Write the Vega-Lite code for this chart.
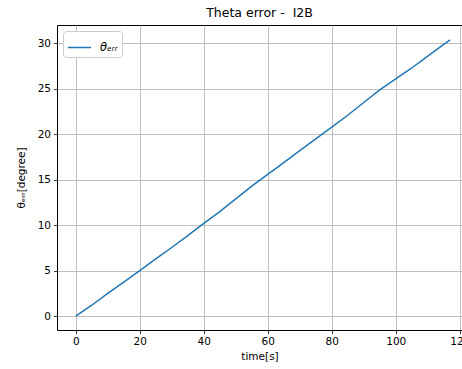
{
  "$schema": "https://vega.github.io/schema/vega-lite/v6.json",
  "autosize": {"type": "none"},
  "padding": {"left": 57, "top": 25, "right": 0, "bottom": 39},
  "width": 405,
  "height": 305,
  "title": {"text": "Theta error - \u00a0I2B", "fontSize": 12.5, "fontWeight": "normal", "font": "DejaVu Sans", "color": "#000000", "offset": 6},
  "config": {
    "font": "DejaVu Sans",
    "view": {"stroke": "#000000", "strokeWidth": 1},
    "axis": {
      "grid": true, "gridColor": "#b0b0b0", "gridWidth": 0.8,
      "domain": false, "tickColor": "#000000", "tickSize": 3.5, "tickWidth": 0.8,
      "labelFontSize": 10.5, "labelColor": "#000000", "labelPadding": 3,
      "titleFontSize": 10.5, "titleFontWeight": "normal", "titleColor": "#000000"
    },
    "legend": {
      "strokeColor": "#cccccc", "fillColor": "#ffffff", "cornerRadius": 3, "padding": 4,
      "labelFontSize": 11.5, "labelColor": "#000000", "labelOffset": 8, "symbolType": "stroke", "symbolSize": 529, "symbolStrokeWidth": 1.5, "labelFontStyle": "italic"
    }
  },
  "data": {"values": [
    {"t": 0, "y": 0, "s": "θₑᵣᵣ"},
    {"t": 5, "y": 1.2, "s": "θₑᵣᵣ"},
    {"t": 10, "y": 2.5, "s": "θₑᵣᵣ"},
    {"t": 15, "y": 3.75, "s": "θₑᵣᵣ"},
    {"t": 20, "y": 5.0, "s": "θₑᵣᵣ"},
    {"t": 25, "y": 6.3, "s": "θₑᵣᵣ"},
    {"t": 30, "y": 7.55, "s": "θₑᵣᵣ"},
    {"t": 35, "y": 8.85, "s": "θₑᵣᵣ"},
    {"t": 40, "y": 10.2, "s": "θₑᵣᵣ"},
    {"t": 45, "y": 11.5, "s": "θₑᵣᵣ"},
    {"t": 50, "y": 12.9, "s": "θₑᵣᵣ"},
    {"t": 55, "y": 14.3, "s": "θₑᵣᵣ"},
    {"t": 60, "y": 15.6, "s": "θₑᵣᵣ"},
    {"t": 65, "y": 16.9, "s": "θₑᵣᵣ"},
    {"t": 70, "y": 18.2, "s": "θₑᵣᵣ"},
    {"t": 75, "y": 19.5, "s": "θₑᵣᵣ"},
    {"t": 80, "y": 20.8, "s": "θₑᵣᵣ"},
    {"t": 85, "y": 22.1, "s": "θₑᵣᵣ"},
    {"t": 90, "y": 23.5, "s": "θₑᵣᵣ"},
    {"t": 95, "y": 24.9, "s": "θₑᵣᵣ"},
    {"t": 100, "y": 26.1, "s": "θₑᵣᵣ"},
    {"t": 105, "y": 27.3, "s": "θₑᵣᵣ"},
    {"t": 110, "y": 28.6, "s": "θₑᵣᵣ"},
    {"t": 115, "y": 29.9, "s": "θₑᵣᵣ"},
    {"t": 117, "y": 30.4, "s": "θₑᵣᵣ"}
  ]},
  "mark": {"type": "line", "strokeWidth": 1.5, "clip": true},
  "encoding": {
    "x": {"field": "t", "type": "quantitative", "scale": {"domain": [-5.85, 120.7], "nice": false, "zero": false},
      "axis": {"values": [0, 20, 40, 60, 80, 100, 120], "title": "time[s]", "titlePadding": 4}},
    "y": {"field": "y", "type": "quantitative", "scale": {"domain": [-1.525, 32.03], "nice": false, "zero": false},
      "axis": {"values": [0, 5, 10, 15, 20, 25, 30], "title": "θₑᵣᵣ[degree]", "titlePadding": 11}},
    "color": {"field": "s", "type": "nominal", "scale": {"range": ["#1f77b4"]},
      "legend": {"title": null, "orient": "top-left", "offset": 6}}
  }
}
